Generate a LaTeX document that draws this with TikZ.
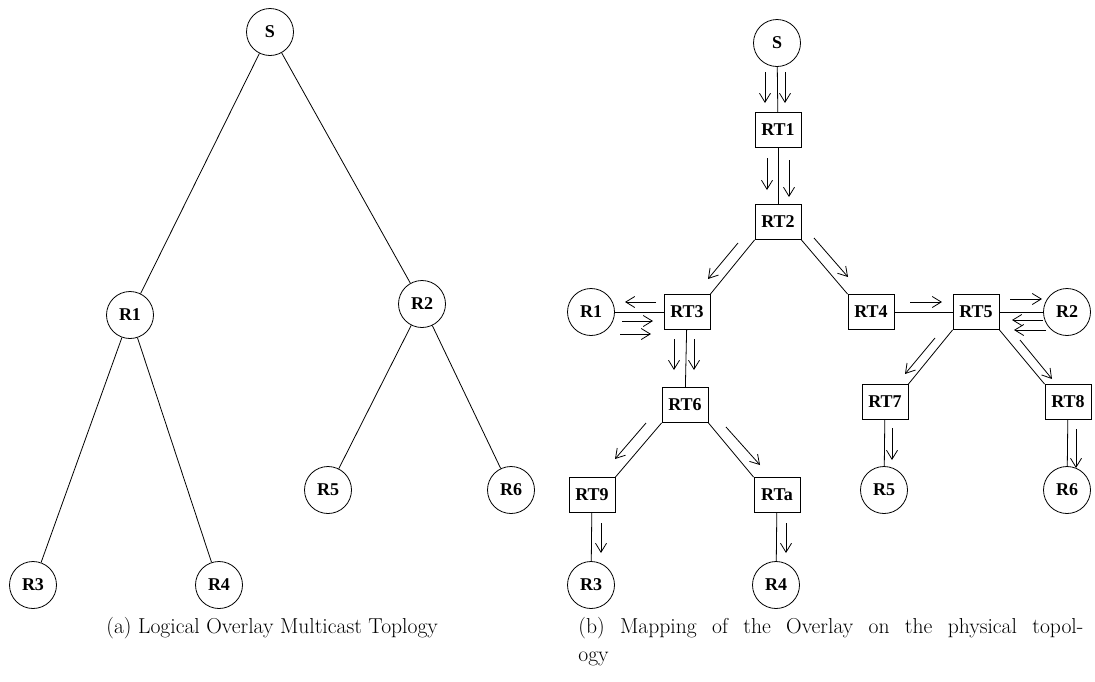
\documentclass[tikz,border=0pt]{standalone}
\usepackage{fontspec}
\newfontfamily\nodefont{Liberation Serif}
\usetikzlibrary{arrows.meta,calc}
\tikzset{
  every picture/.style={line width=0.8pt},
  rnode/.style={draw,circle,minimum size=47pt,inner sep=0pt,font=\nodefont\bfseries\fontsize{18}{20}\selectfont},
  rtbox/.style={draw,rectangle,minimum width=46pt,minimum height=35pt,inner sep=0pt,font=\nodefont\bfseries\fontsize{18}{20}\selectfont},
  flow/.style={-{Straight Barb[length=9pt,width=11pt]}},
  capt/.style={anchor=base west,inner sep=0pt,font=\fontsize{21.6}{28}\selectfont}
}
\begin{document}
\begin{tikzpicture}[x=1pt,y=-1pt]
\useasboundingbox (0,0) rectangle (1095,681);
% ---- (a) logical tree
\node[rnode] (aS) at (270,32) {S};
\node[rnode] (aR1) at (130,315) {R1};
\node[rnode] (aR2) at (422,304) {R2};
\node[rnode] (aR3) at (33,585) {R3};
\node[rnode] (aR4) at (219,585) {R4};
\node[rnode] (aR5) at (328,490) {R5};
\node[rnode] (aR6) at (511,490) {R6};
\draw (aS) -- (aR1);
\draw (aS) -- (aR2);
\draw (aR1) -- (aR3);
\draw (aR1) -- (aR4);
\draw (aR2) -- (aR5);
\draw (aR2) -- (aR6);
% ---- (b) physical mapping
\node[rnode] (bS) at (777,43) {S};
\node[rtbox] (RT1) at (778,130) {RT1};
\node[rtbox] (RT2) at (778,222) {RT2};
\node[rtbox] (RT3) at (687,312) {RT3};
\node[rtbox] (RT4) at (871,312) {RT4};
\node[rtbox] (RT5) at (976,312) {RT5};
\node[rnode] (bR1) at (591,312) {R1};
\node[rnode] (bR2) at (1067,312) {R2};
\node[rtbox] (RT6) at (685,405) {RT6};
\node[rtbox] (RT9) at (592,495) {RT9};
\node[rtbox] (RTa) at (777,495) {RTa};
\node[rnode] (bR3) at (591,585) {R3};
\node[rnode] (bR4) at (776,585) {R4};
\node[rtbox] (RT7) at (885,402) {RT7};
\node[rtbox] (RT8) at (1068,402) {RT8};
\node[rnode] (bR5) at (884,490) {R5};
\node[rnode] (bR6) at (1067,490) {R6};
\draw (bS) -- (RT1);
\draw (RT1) -- (RT2);
\draw (RT2.south west) -- (RT3.north east);
\draw (RT2.south east) -- (RT4.north west);
\draw (bR1) -- (RT3);
\draw (RT4) -- (RT5);
\draw (RT5) -- (bR2);
\draw (RT3) -- (RT6);
\draw (RT5.south west) -- (RT7.north east);
\draw (RT5.south east) -- (RT8.north west);
\draw (RT6.south west) -- (RT9.north east);
\draw (RT6.south east) -- (RTa.north west);
\draw (RT9) -- (bR3);
\draw (RTa) -- (bR4);
\draw (RT7) -- (bR5);
\draw (RT8) -- (bR6);
% flow arrows
\draw[flow] (765,72) -- (765,103);
\draw[flow] (785,72) -- (785,103);
\draw[flow] (767,158) -- (767,190);
\draw[flow] (789,160) -- (789,197);
\draw[flow] (738,243) -- (708,279);
\draw[flow] (814,238) -- (848,277);
\draw[flow] (656,302) -- (625,302);
\draw[flow] (622,321) -- (653,321);
\draw[flow] (620,334) -- (651,334);
\draw[flow] (674,339) -- (674,370);
\draw[flow] (694,339) -- (694,370);
\draw[flow] (910,302) -- (942,302);
\draw[flow] (1010,299) -- (1042,299);
\draw[flow] (1043,320) -- (1012,320);
\draw[flow] (1046,330) -- (1014,330);
\draw[flow] (935,338) -- (905,374);
\draw[flow] (1020,340) -- (1052,379);
\draw[flow] (646,423) -- (615,459);
\draw[flow] (726,427) -- (760,465);
\draw[flow] (601,523) -- (601,553);
\draw[flow] (786,523) -- (786,553);
\draw[flow] (892,428) -- (892,460);
\draw[flow] (1076,429) -- (1076,468);
% captions
\node[capt] (capa) at (106,633) {(a) Logical Overlay Multicast Toplogy};
\node[capt] (capb) at (578,633) {\makebox[505pt][s]{(b) Mapping of the Overlay on the physical topol-}};
\node[capt] (capb2) at (578,661) {ogy};
\end{tikzpicture}
\end{document}
